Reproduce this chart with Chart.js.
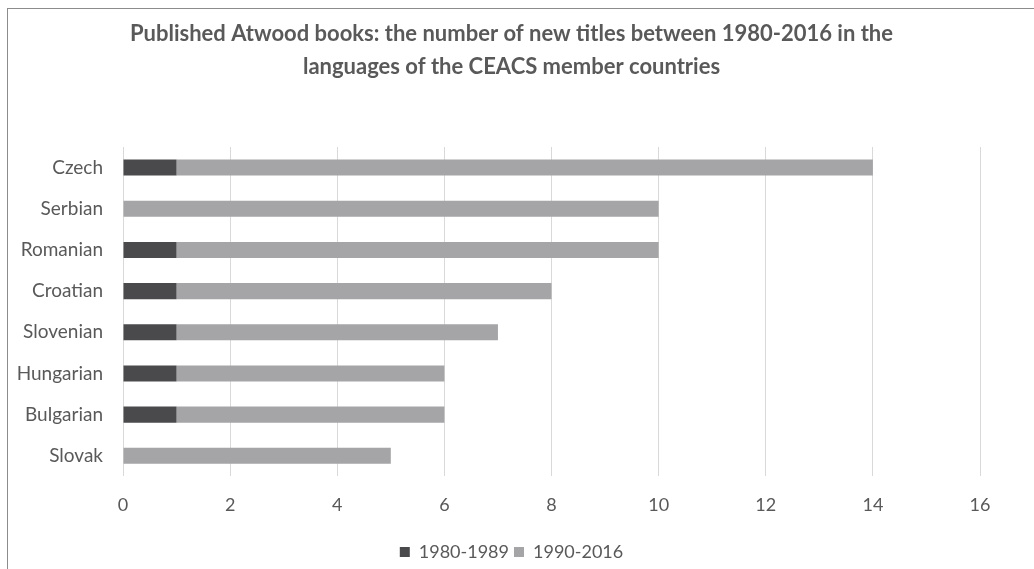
<!DOCTYPE html>
<html>
<head>
<meta charset="utf-8">
<script src="https://cdn.jsdelivr.net/npm/chart.js@4"></script>
<style>
    html, body { margin: 0; padding: 0; background: #fff; overflow: hidden; }
    #frame {
        position: absolute; left: 7px; top: 8px; width: 1100px; height: 600px;
        border-left: 1.5px solid #8c8c8c; border-top: 1.5px solid #8c8c8c;
    }
    #wrap { position: absolute; left: 0; top: 0; width: 1034px; height: 569px; }
</style>
</head>
<body>
<div id="frame"></div>
<div id="wrap"><canvas id="booksChart"></canvas></div>
<script>
const languages = ['Czech', 'Serbian', 'Romanian', 'Croatian', 'Slovenian', 'Hungarian', 'Bulgarian', 'Slovak'];
const titles1980s = [1, 0, 1, 1, 1, 1, 1, 0];
const titles1990s = [13, 10, 9, 7, 6, 5, 5, 5];
const seriesNames = ['1980-1989', '1990-2016'];
const xTicks = [0, 2, 4, 6, 8, 10, 12, 14, 16];

const textColor = '#595959';
const fontName = 'Lato, "Open Sans", sans-serif';

// title and legend are centred on the whole frame, not on the padded area
const recenter = {
    id: 'recenter',
    afterLayout(chart) {
        chart.titleBlock.right += 43;
        chart.legend.left += 43;
    }
};

const ctx = document.getElementById('booksChart').getContext('2d');
const booksChart = new Chart(ctx, {
    type: 'bar',
    data: {
        labels: languages,
        datasets: [
            {
                label: seriesNames[0],
                data: titles1980s,
                backgroundColor: '#4a4a4c',
                barPercentage: 0.39,
                categoryPercentage: 1
            },
            {
                label: seriesNames[1],
                data: titles1990s,
                backgroundColor: '#a5a5a7',
                barPercentage: 0.39,
                categoryPercentage: 1
            }
        ]
    },
    options: {
        indexAxis: 'y',
        responsive: true,
        maintainAspectRatio: false,
        animation: false,
        layout: {
            padding: { left: 0, right: 54, top: 17, bottom: -2 }
        },
        plugins: {
            title: {
                display: true,
                text: [
                    'Published Atwood books: the number of new titles between 1980-2016 in the',
                    'languages of the CEACS member countries'
                ],
                color: textColor,
                font: { family: fontName, size: 22, weight: 'bold', lineHeight: 1.5 },
                padding: { top: 0, bottom: 64 }
            },
            legend: {
                position: 'bottom',
                labels: {
                    color: textColor,
                    font: { family: fontName, size: 18 },
                    boxWidth: 10,
                    boxHeight: 10,
                    padding: 5
                }
            },
            tooltip: { enabled: false }
        },
        scales: {
            x: {
                stacked: true,
                min: 0,
                max: 16,
                afterBuildTicks: axis => {
                    axis.ticks = xTicks.map(v => ({ value: v }));
                },
                afterFit: axis => { axis.height += 4; },
                grid: { color: '#d9d9d9', lineWidth: 1, drawTicks: false },
                border: { display: false },
                ticks: {
                    color: textColor,
                    font: { family: fontName, size: 18 },
                    padding: 18
                }
            },
            y: {
                stacked: true,
                grid: { display: false, drawTicks: false },
                border: { display: false },
                afterFit: axis => { axis.width = 123; },
                ticks: {
                    color: textColor,
                    font: { family: fontName, size: 19 },
                    padding: 20
                }
            }
        }
    },
    plugins: [recenter]
});
</script>
</body>
</html>
